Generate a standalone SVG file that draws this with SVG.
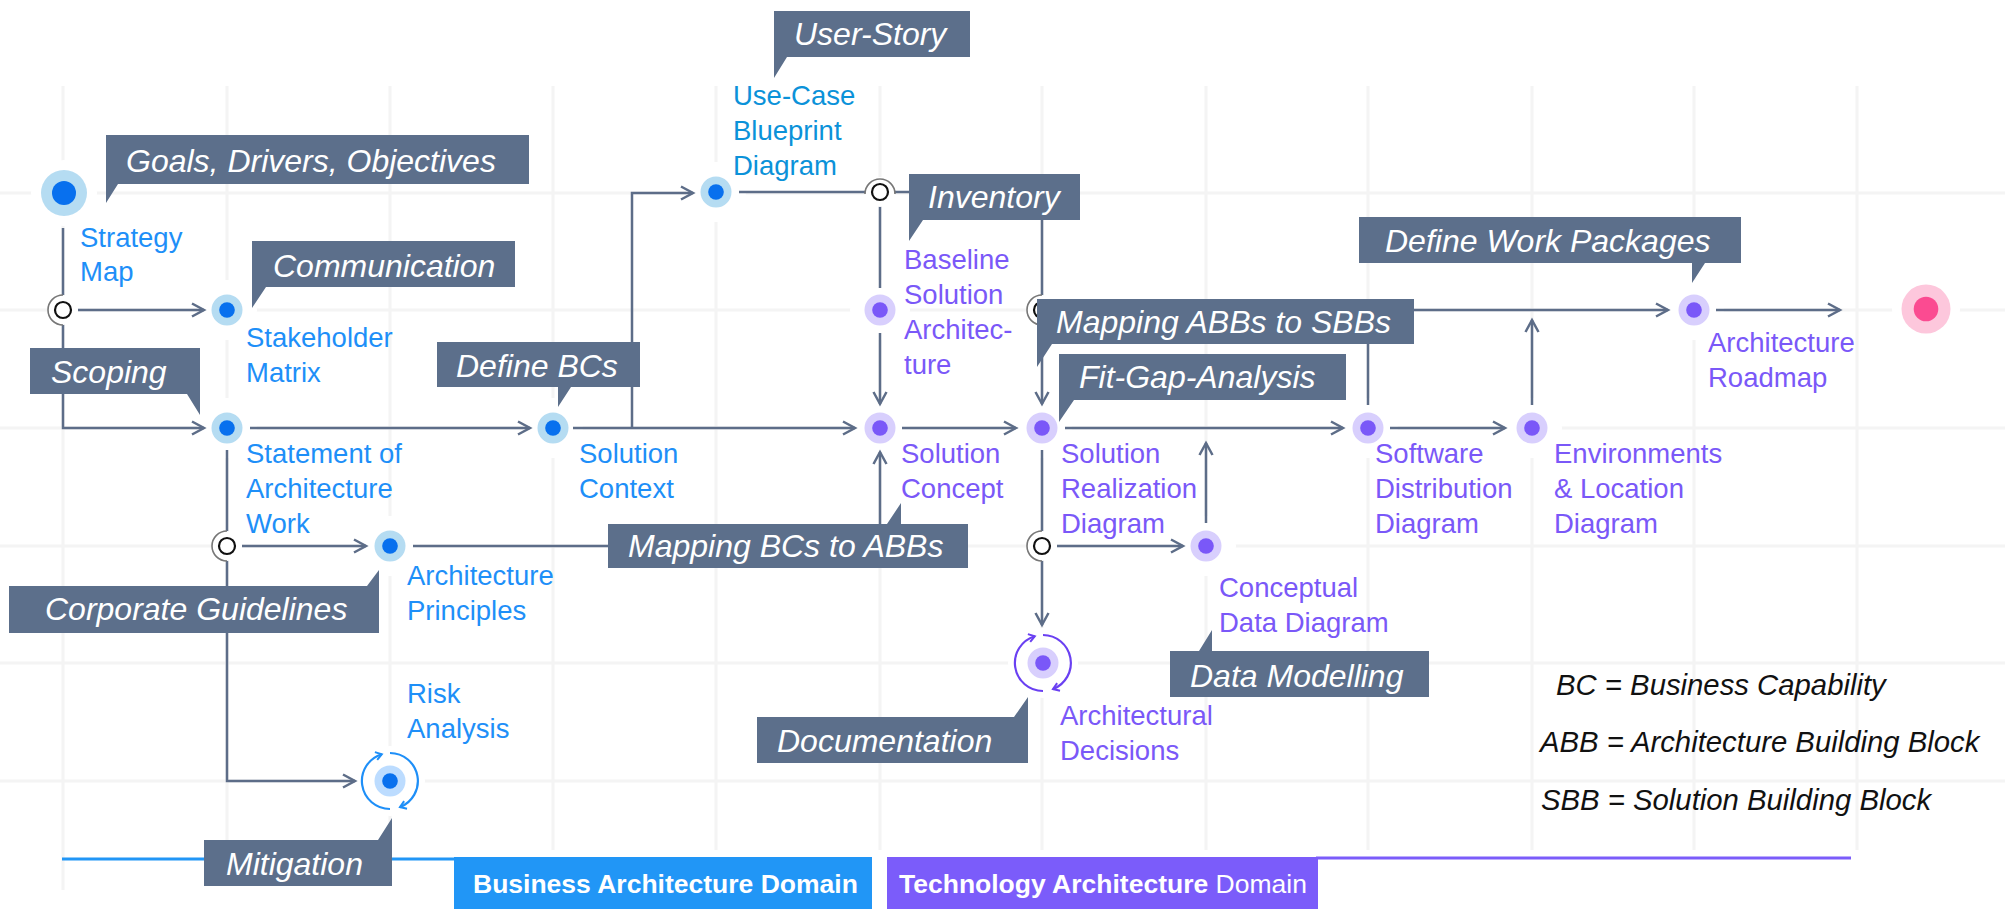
<svg xmlns="http://www.w3.org/2000/svg" width="2005" height="909" viewBox="0 0 2005 909">
<defs>
<style>
.grid{stroke:#f4f4f4;stroke-width:3;fill:none}
.conn{fill:none;stroke:#5d6d88;stroke-width:2.5}
.lbl{font-family:"Liberation Sans",Arial,sans-serif;font-size:27.5px}
.blue{fill:#1e8ff8}
.ucase{fill:#0b92d9}
.purple{fill:#7a58f8}
.call{fill:#5c6f8b}
.ctext{font-family:"Liberation Sans",Arial,sans-serif;font-size:32px;font-style:italic;fill:#ffffff}
.legend{font-family:"Liberation Sans",Arial,sans-serif;font-size:29.3px;font-style:italic;fill:#111111}
.dom{font-family:"Liberation Sans",Arial,sans-serif;font-size:26.5px;fill:#ffffff}
.halo{fill:#ffffff}
.bo{fill:#b5dcf2}.bi{fill:#0870ee}
.po{fill:#d8cffd}.pi{fill:#7a58f8}
.jr{fill:#ffffff;stroke:#111111;stroke-width:2.2}
.ja{fill:none;stroke:#777777;stroke-width:1.6}
.cycb{fill:none;stroke:#1e8ff8;stroke-width:2.2}
.cycp{fill:none;stroke:#6a40f2;stroke-width:2.2}
</style>
<marker id="arr" markerUnits="userSpaceOnUse" markerWidth="16" markerHeight="16" refX="12" refY="6.5" orient="auto" overflow="visible">
<path d="M0,0 L12,6.5 L0,13" fill="none" stroke="#5d6d88" stroke-width="2.5"/>
</marker>
<marker id="cab" markerUnits="userSpaceOnUse" markerWidth="10" markerHeight="10" refX="6" refY="4" orient="auto" overflow="visible">
<path d="M0,0 L6,4 L0,8" fill="none" stroke="#1e8ff8" stroke-width="2"/>
</marker>
<marker id="cap" markerUnits="userSpaceOnUse" markerWidth="10" markerHeight="10" refX="6" refY="4" orient="auto" overflow="visible">
<path d="M0,0 L6,4 L0,8" fill="none" stroke="#6a40f2" stroke-width="2"/>
</marker>
</defs>
<rect width="2005" height="909" fill="#ffffff"/>

<g id="grid" class="grid">
<line x1="63" y1="86" x2="63" y2="890"/>
<line x1="227" y1="86" x2="227" y2="850"/>
<line x1="390" y1="86" x2="390" y2="850"/>
<line x1="553" y1="86" x2="553" y2="850"/>
<line x1="716" y1="86" x2="716" y2="850"/>
<line x1="880" y1="86" x2="880" y2="850"/>
<line x1="1042" y1="86" x2="1042" y2="850"/>
<line x1="1206" y1="86" x2="1206" y2="850"/>
<line x1="1368" y1="86" x2="1368" y2="850"/>
<line x1="1532" y1="86" x2="1532" y2="850"/>
<line x1="1694" y1="86" x2="1694" y2="850"/>
<line x1="1857" y1="86" x2="1857" y2="850"/>
<line x1="0" y1="193" x2="2005" y2="193"/>
<line x1="0" y1="310" x2="2005" y2="310"/>
<line x1="0" y1="428" x2="2005" y2="428"/>
<line x1="0" y1="546" x2="2005" y2="546"/>
<line x1="0" y1="663" x2="2005" y2="663"/>
<line x1="0" y1="781" x2="2005" y2="781"/>
</g>

<g id="halos" class="halo">
<circle cx="64" cy="193" r="33"/>
<circle cx="227" cy="310" r="30"/>
<circle cx="227" cy="428" r="30"/>
<circle cx="553" cy="428" r="30"/>
<circle cx="716" cy="192" r="30"/>
<circle cx="390" cy="546" r="30"/>
<circle cx="390" cy="781" r="35"/>
<circle cx="880" cy="310" r="30"/>
<circle cx="880" cy="428" r="30"/>
<circle cx="1042" cy="428" r="30"/>
<circle cx="1206" cy="546" r="30"/>
<circle cx="1043" cy="663" r="35"/>
<circle cx="1368" cy="428" r="30"/>
<circle cx="1532" cy="428" r="30"/>
<circle cx="1694" cy="310" r="30"/>
<circle cx="1926" cy="309" r="34"/>
</g>

<g id="domains">
<line x1="62" y1="859" x2="456" y2="859" stroke="#2196f6" stroke-width="3"/>
<line x1="1316" y1="858" x2="1851" y2="858" stroke="#7b5cfa" stroke-width="3"/>
<rect x="454" y="857" width="418" height="52" fill="#2196f6"/>
<text class="dom" x="473" y="893" font-weight="bold">Business Architecture Domain</text>
<rect x="887" y="857" width="431" height="52" fill="#7b5cfa"/>
<text class="dom" x="899" y="893"><tspan font-weight="bold">Technology Architecture</tspan> Domain</text>
</g>

<g id="connectors" class="conn">
<path d="M63,228 V428 H204" marker-end="url(#arr)"/>
<path d="M78,310 H204" marker-end="url(#arr)"/>
<path d="M250,428 H530" marker-end="url(#arr)"/>
<path d="M573,428 H855" marker-end="url(#arr)"/>
<path d="M632,428 V193 H693" marker-end="url(#arr)"/>
<path d="M739,192 H1042 V404" marker-end="url(#arr)"/>
<path d="M880,205 V288"/>
<path d="M880,333 V404" marker-end="url(#arr)"/>
<path d="M902,428 H1016" marker-end="url(#arr)"/>
<path d="M1065,428 H1343" marker-end="url(#arr)"/>
<path d="M1390,428 H1505" marker-end="url(#arr)"/>
<path d="M1042,310 H1668" marker-end="url(#arr)"/>
<path d="M1368,405 V310"/>
<path d="M1532,405 V320" marker-end="url(#arr)"/>
<path d="M1716,310 H1840" marker-end="url(#arr)"/>
<path d="M227,450 V781 H355" marker-end="url(#arr)"/>
<path d="M242,546 H366" marker-end="url(#arr)"/>
<path d="M413,546 H880 V452" marker-end="url(#arr)"/>
<path d="M1042,450 V625" marker-end="url(#arr)"/>
<path d="M1057,546 H1183" marker-end="url(#arr)"/>
<path d="M1206,523 V443" marker-end="url(#arr)"/>
</g>

<g id="j-strategy">
<circle cx="63" cy="310" r="15" fill="#ffffff"/>
<path class="ja" d="M63,295 A15,15 0 0 0 63,325"/>
<circle class="jr" cx="63" cy="310" r="8"/>
</g>
<g id="j-usecase">
<circle cx="880" cy="192" r="15" fill="#ffffff"/>
<path class="ja" d="M865,194 A15,15 0 0 1 895,194"/>
<circle class="jr" cx="880" cy="192" r="8"/>
</g>
<g id="j-statement">
<circle cx="227" cy="546" r="15" fill="#ffffff"/>
<path class="ja" d="M227,531 A15,15 0 0 0 227,561"/>
<circle class="jr" cx="227" cy="546" r="8"/>
</g>
<g id="j-inventory">
<circle cx="1042" cy="310" r="15" fill="#ffffff"/>
<path class="ja" d="M1042,295 A15,15 0 0 0 1042,325"/>
<circle class="jr" cx="1042" cy="310" r="8"/>
</g>
<g id="j-realization">
<circle cx="1042" cy="546" r="15" fill="#ffffff"/>
<path class="ja" d="M1042,531 A15,15 0 0 0 1042,561"/>
<circle class="jr" cx="1042" cy="546" r="8"/>
</g>

<g id="strategy-map">
<circle class="bo" cx="64" cy="193" r="23"/><circle class="bi" cx="64" cy="193" r="12"/>
<text class="lbl blue"><tspan x="80" y="247">Strategy</tspan><tspan x="80" y="281">Map</tspan></text>
</g>
<g id="stakeholder-matrix">
<circle class="bo" cx="227" cy="310" r="15.5"/><circle class="bi" cx="227" cy="310" r="7.8"/>
<text class="lbl blue"><tspan x="246" y="347">Stakeholder</tspan><tspan x="246" y="382">Matrix</tspan></text>
</g>
<g id="statement-of-architecture-work">
<circle class="bo" cx="227" cy="428" r="15.5"/><circle class="bi" cx="227" cy="428" r="7.8"/>
<text class="lbl blue"><tspan x="246" y="463">Statement of</tspan><tspan x="246" y="498">Architecture</tspan><tspan x="246" y="533">Work</tspan></text>
</g>
<g id="solution-context">
<circle class="bo" cx="553" cy="428" r="15.5"/><circle class="bi" cx="553" cy="428" r="7.8"/>
<text class="lbl blue"><tspan x="579" y="463">Solution</tspan><tspan x="579" y="498">Context</tspan></text>
</g>
<g id="use-case-blueprint">
<circle class="bo" cx="716" cy="192" r="15.5"/><circle class="bi" cx="716" cy="192" r="7.8"/>
<text class="lbl ucase"><tspan x="733" y="105">Use-Case</tspan><tspan x="733" y="140">Blueprint</tspan><tspan x="733" y="175">Diagram</tspan></text>
</g>
<g id="architecture-principles">
<circle class="bo" cx="390" cy="546" r="15.5"/><circle class="bi" cx="390" cy="546" r="7.8"/>
<text class="lbl blue"><tspan x="407" y="585">Architecture</tspan><tspan x="407" y="620">Principles</tspan></text>
</g>
<g id="risk-analysis">
<circle cx="390" cy="781" r="15.5" fill="#bcdcff"/><circle class="bi" cx="390" cy="781" r="7.8"/>
<path class="cycb" d="M390,809 A28,28 0 0 1 381.8,754.2" marker-end="url(#cab)"/>
<path class="cycb" d="M390,753 A28,28 0 0 1 400,807.1" marker-end="url(#cab)"/>
<text class="lbl blue"><tspan x="407" y="703">Risk</tspan><tspan x="407" y="738">Analysis</tspan></text>
</g>
<g id="baseline-solution-architecture">
<circle class="po" cx="880" cy="310" r="15.5"/><circle class="pi" cx="880" cy="310" r="7.8"/>
<text class="lbl purple"><tspan x="904" y="269">Baseline</tspan><tspan x="904" y="304">Solution</tspan><tspan x="904" y="339">Architec-</tspan><tspan x="904" y="374">ture</tspan></text>
</g>
<g id="solution-concept">
<circle class="po" cx="880" cy="428" r="15.5"/><circle class="pi" cx="880" cy="428" r="7.8"/>
<text class="lbl purple"><tspan x="901" y="463">Solution</tspan><tspan x="901" y="498">Concept</tspan></text>
</g>
<g id="solution-realization">
<circle class="po" cx="1042" cy="428" r="15.5"/><circle class="pi" cx="1042" cy="428" r="7.8"/>
<text class="lbl purple"><tspan x="1061" y="463">Solution</tspan><tspan x="1061" y="498">Realization</tspan><tspan x="1061" y="533">Diagram</tspan></text>
</g>
<g id="conceptual-data">
<circle class="po" cx="1206" cy="546" r="15.5"/><circle class="pi" cx="1206" cy="546" r="7.8"/>
<text class="lbl purple"><tspan x="1219" y="597">Conceptual</tspan><tspan x="1219" y="632">Data Diagram</tspan></text>
</g>
<g id="architectural-decisions">
<circle class="po" cx="1043" cy="663" r="15.5"/><circle class="pi" cx="1043" cy="663" r="7.8"/>
<path class="cycp" d="M1043,691 A28,28 0 0 1 1034.8,636.2" marker-end="url(#cap)"/>
<path class="cycp" d="M1043,635 A28,28 0 0 1 1053,689.1" marker-end="url(#cap)"/>
<text class="lbl purple"><tspan x="1060" y="725">Architectural</tspan><tspan x="1060" y="760">Decisions</tspan></text>
</g>
<g id="software-distribution">
<circle class="po" cx="1368" cy="428" r="15.5"/><circle class="pi" cx="1368" cy="428" r="7.8"/>
<text class="lbl purple"><tspan x="1375" y="463">Software</tspan><tspan x="1375" y="498">Distribution</tspan><tspan x="1375" y="533">Diagram</tspan></text>
</g>
<g id="environments-location">
<circle class="po" cx="1532" cy="428" r="15.5"/><circle class="pi" cx="1532" cy="428" r="7.8"/>
<text class="lbl purple"><tspan x="1554" y="463">Environments</tspan><tspan x="1554" y="498">&amp; Location</tspan><tspan x="1554" y="533">Diagram</tspan></text>
</g>
<g id="architecture-roadmap">
<circle class="po" cx="1694" cy="310" r="15.5"/><circle class="pi" cx="1694" cy="310" r="7.8"/>
<text class="lbl purple"><tspan x="1708" y="352">Architecture</tspan><tspan x="1708" y="387">Roadmap</tspan></text>
</g>
<g id="end">
<circle cx="1926" cy="309" r="24.5" fill="#fdc7dc"/><circle cx="1926" cy="309" r="12.3" fill="#fb4b91"/>
</g>

<g id="callout-goals"><path class="call" d="M106,135 H529 V184 H118 L106,203 Z"/><text class="ctext" x="126" y="172">Goals, Drivers, Objectives</text></g>
<g id="callout-communication"><path class="call" d="M252,241 H515 V287 H266 L252,308 Z"/><text class="ctext" x="273" y="277">Communication</text></g>
<g id="callout-scoping"><path class="call" d="M30,348 H200 V415 L187,394 H30 Z"/><text class="ctext" x="51" y="383">Scoping</text></g>
<g id="callout-define-bcs"><path class="call" d="M437,342 H640 V387 H571 L558,407 V387 H437 Z"/><text class="ctext" x="456" y="377">Define BCs</text></g>
<g id="callout-user-story"><path class="call" d="M774,11 H970 V57 H787 L774,78 Z"/><text class="ctext" x="794" y="45">User-Story</text></g>
<g id="callout-inventory"><path class="call" d="M909,174 H1080 V220 H923 L909,241 Z"/><text class="ctext" x="928" y="208">Inventory</text></g>
<g id="callout-mapping-abbs"><path class="call" d="M1037,299 H1414 V344 H1052 L1037,367 Z"/><text class="ctext" x="1056" y="333">Mapping ABBs to SBBs</text></g>
<g id="callout-fit-gap"><path class="call" d="M1059,354 H1346 V400 H1074 L1059,422 Z"/><text class="ctext" x="1079" y="388">Fit-Gap-Analysis</text></g>
<g id="callout-work-packages"><path class="call" d="M1359,217 H1741 V263 H1705 L1692,283 V263 H1359 Z"/><text class="ctext" x="1385" y="252">Define Work Packages</text></g>
<g id="callout-corporate"><path class="call" d="M9,586 H367 L379,570 V633 H9 Z"/><text class="ctext" x="45" y="620">Corporate Guidelines</text></g>
<g id="callout-mitigation"><path class="call" d="M204,840 H378 L392,818 V886 H204 Z"/><text class="ctext" x="226" y="875">Mitigation</text></g>
<g id="callout-mapping-bcs"><path class="call" d="M608,524 H887 L901,503 V524 H968 V568 H608 Z"/><text class="ctext" x="628" y="557">Mapping BCs to ABBs</text></g>
<g id="callout-documentation"><path class="call" d="M757,717 H1014 L1028,697 V763 H757 Z"/><text class="ctext" x="777" y="752">Documentation</text></g>
<g id="callout-data-modelling"><path class="call" d="M1170,651 H1199 L1212,630 V651 H1429 V697 H1170 Z"/><text class="ctext" x="1190" y="687">Data Modelling</text></g>

<g id="legend">
<text class="legend" x="1556" y="695">BC = Business Capability</text>
<text class="legend" x="1540" y="752">ABB = Architecture Building Block</text>
<text class="legend" x="1541" y="810">SBB = Solution Building Block</text>
</g>
</svg>
